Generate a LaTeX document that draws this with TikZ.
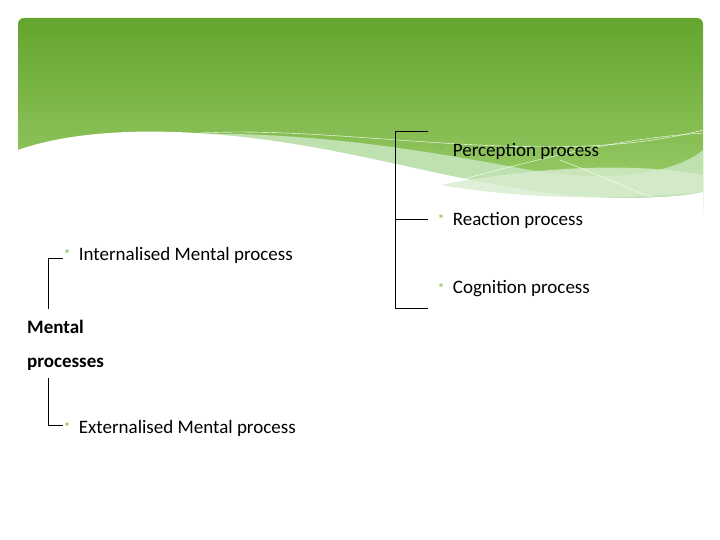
\documentclass[tikz,border=0pt]{standalone}
\usepackage{fontspec}
\setmainfont{Carlito}
\usetikzlibrary{positioning}
\definecolor{hdtop}{RGB}{99,165,46}
\definecolor{hdbot}{RGB}{160,208,110}
\definecolor{band}{RGB}{190,225,175}
\definecolor{bullet}{RGB}{120,190,70}
\begin{document}
\begin{tikzpicture}[x=1pt, y=-1pt,
                item/.style={
                    anchor=west,
                    inner sep=0pt,
                    font=\fontsize{19}{22}\selectfont
                },
                star/.style={
                    anchor=center,
                    inner sep=0pt,
                    text=bullet,
                    font=\fontsize{14}{14}\selectfont
                },
                line/.style={
                    draw, thin
                }
                ]
                \useasboundingbox (0,0) rectangle (720,540);
                \fill[white] (0,0) rectangle (720,540);

                % Header with wave
                \shade[top color=hdtop, bottom color=hdbot, rounded corners=6pt]
                    (18,18) rectangle (703,215);
                \fill[band] (150,135) .. controls (300,128) and (420,150) .. (530,170)
                    .. controls (620,185) and (680,170) .. (703,150) -- (703,215) -- (150,215) -- cycle;
                \fill[white] (18,150) .. controls (80,128) and (180,125) .. (300,145)
                    .. controls (420,165) and (520,200) .. (640,198)
                    .. controls (670,197) and (690,195) .. (703,192) -- (703,222) -- (18,222) -- cycle;
                \fill[band!60!white, opacity=0.8] (440,185) .. controls (530,200) and (620,200) .. (703,192)
                    -- (703,175) .. controls (620,160) and (520,170) .. (440,185) -- cycle;
                \draw[white, thin] (200,133) .. controls (350,125) and (550,170) .. (703,130);
                \draw[white, thin] (440,185) .. controls (520,165) and (600,140) .. (703,133);
                \draw[white, thin] (560,160) .. controls (600,175) and (630,190) .. (655,198);
                \fill[white] (0,215) rectangle (720,222);

                % Right branch
                \node[star] (s1) at (441,151) {*};
                \node[item, right=8pt of s1] (perc) {Perception process};
                \node[star] (s2) at (441,220) {*};
                \node[item, right=8pt of s2] (reac) {Reaction process};
                \node[star] (s3) at (441,289) {*};
                \node[item, right=8pt of s3] (cogn) {Cognition process};

                \coordinate (b1) at (395,131);
                \coordinate (b3) at (395,308);
                \coordinate (e1) at (428,131);
                \coordinate (e2) at (428,219);
                \coordinate (e3) at (428,308);
                \path[line] (e1) -- (b1) -- (b3) -- (e3);
                \path[line] (b1 |- e2) -- (e2);

                % Left branch
                \node[star] (s4) at (67,255) {*};
                \node[item, right=8pt of s4] (intm) {Internalised Mental process};
                \node[star] (s5) at (67,428) {*};
                \node[item, right=8pt of s5] (extm) {Externalised Mental process};
                \node[item, font=\bfseries\fontsize{19}{34}\selectfont, align=left] (root) at (27,345)
                    {Mental\\processes};

                \coordinate (l1) at (48,258);
                \coordinate (l2) at (48,309);
                \coordinate (l3) at (48,378);
                \coordinate (l4) at (48,425);
                \path[line] (l2) -- (l1) -- (s4.west |- l1);
                \path[line] (l3) -- (l4) -- (s5.west |- l4);
\end{tikzpicture}
\end{document}
